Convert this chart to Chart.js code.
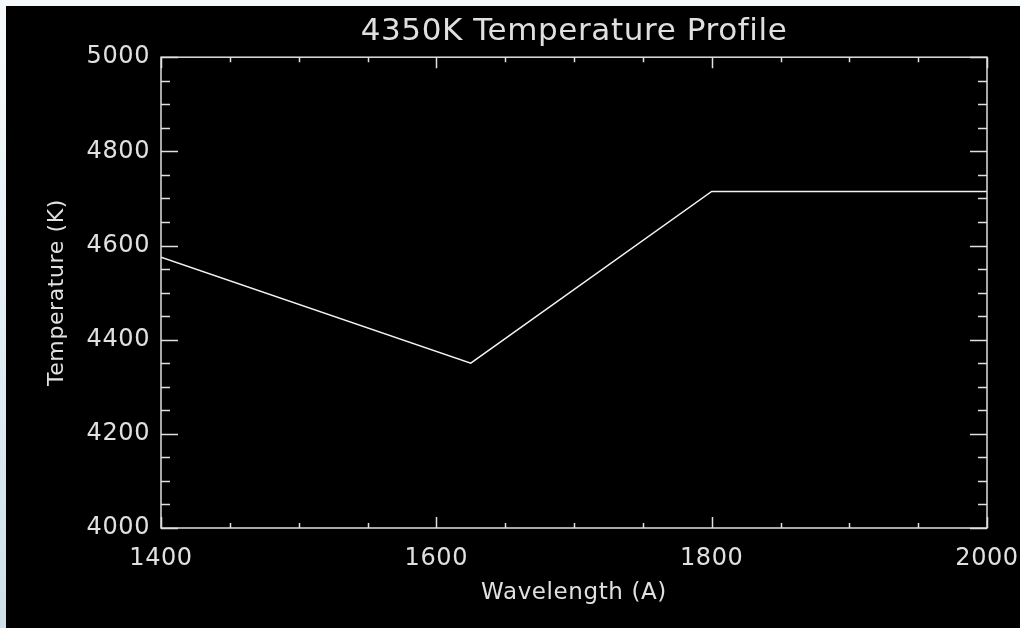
<!DOCTYPE html>
<html>
<head>
<meta charset="utf-8">
<script src="https://cdn.jsdelivr.net/npm/chart.js@4/dist/chart.umd.min.js"></script>
<style>
  html, body { margin: 0; padding: 0; }
  body {
    width: 1020px; height: 628px; overflow: hidden;
    background: linear-gradient(to bottom, #f6f9fc 0%, #e4eff5 50%, #cde0ea 100%);
  }
  #wrap {
    position: absolute; left: 6px; top: 6px;
    width: 1014px; height: 622px; background: #000;
  }
</style>
</head>
<body>
<div id="wrap"><canvas id="profileChart" width="1014" height="622"></canvas></div>
<script>
// Temperature profile data
const wavelength = [1400, 1625, 1800, 2000];
const temperature = [4575, 4350, 4715, 4715];

// axis ranges and ticks
const xTicks = [1400, 1600, 1800, 2000];
const yTicks = [4000, 4200, 4400, 4600, 4800, 5000];
const minorStepX = 50;
const minorStepY = 50;

const fg = '#e0e0e0';
const fontFamily = '"DejaVu Sans", sans-serif';

// a little letter spacing, also keeps "fi" from turning into a ligature
const spacing = {
    id: 'spacing',
    beforeDraw(chart) {
        chart.ctx.letterSpacing = '0.6px';
    }
};

// IDL style box with inward ticks on all four sides
const frame = {
    id: 'frame',
    afterDatasetsDraw(chart) {
        const ctx = chart.ctx;
        const a = chart.chartArea;
        const x = chart.scales.x;
        const y = chart.scales.y;
        ctx.save();
        ctx.strokeStyle = fg;
        ctx.lineWidth = 1.5;
        ctx.strokeRect(a.left, a.top, a.right - a.left, a.bottom - a.top);
        ctx.beginPath();
        for (let v = xTicks[0]; v <= xTicks[xTicks.length - 1]; v += minorStepX) {
            const px = Math.round(x.getPixelForValue(v)) + 0.5;
            const len = xTicks.includes(v) ? 11 : 5;
            ctx.moveTo(px, a.bottom); ctx.lineTo(px, a.bottom - len);
            ctx.moveTo(px, a.top); ctx.lineTo(px, a.top + len);
        }
        for (let v = yTicks[0]; v <= yTicks[yTicks.length - 1]; v += minorStepY) {
            const py = Math.round(y.getPixelForValue(v)) + 0.5;
            const len = yTicks.includes(v) ? 17 : 9;
            ctx.moveTo(a.left, py); ctx.lineTo(a.left + len, py);
            ctx.moveTo(a.right, py); ctx.lineTo(a.right - len, py);
        }
        ctx.stroke();
        ctx.restore();
    }
};

const ctx = document.getElementById('profileChart').getContext('2d');
const profileChart = new Chart(ctx, {
    type: 'scatter',
    data: {
        datasets: [{
            data: wavelength.map((w, i) => ({x: w, y: temperature[i]})),
            showLine: true,
            borderColor: '#f2f2f2',
            borderWidth: 1.5,
            pointRadius: 0,
            tension: 0
        }]
    },
    options: {
        responsive: false,
        animation: false,
        layout: {
            padding: {left: 0, right: 33, top: 0, bottom: 0}
        },
        plugins: {
            legend: {display: false},
            tooltip: {enabled: false},
            title: {
                display: true,
                fullSize: false,
                text: '4350K Temperature Profile',
                color: fg,
                font: {family: fontFamily, size: 31, weight: 'normal'},
                padding: {top: 7, bottom: 7}
            }
        },
        scales: {
            x: {
                type: 'linear',
                min: 1400,
                max: 2000,
                grid: {display: false, drawTicks: false},
                border: {display: false},
                afterBuildTicks: (scale) => { scale.ticks = xTicks.map(v => ({value: v})); },
                afterFit: (scale) => {
                    scale.height = 100;
                    scale.paddingLeft = 0;
                    scale.paddingRight = 0;
                },
                ticks: {
                    color: fg,
                    font: {family: fontFamily, size: 24},
                    padding: 16,
                    maxRotation: 0,
                    callback: (v) => String(v)
                },
                title: {
                    display: true,
                    text: 'Wavelength (A)',
                    color: fg,
                    font: {family: fontFamily, size: 23},
                    padding: {top: 0, bottom: 21}
                }
            },
            y: {
                type: 'linear',
                min: 4000,
                max: 5000,
                grid: {display: false, drawTicks: false},
                border: {display: false},
                afterBuildTicks: (scale) => { scale.ticks = yTicks.map(v => ({value: v})); },
                afterFit: (scale) => {
                    scale.width = 155;
                    scale.paddingTop = 0;
                    scale.paddingBottom = 0;
                },
                ticks: {
                    color: fg,
                    font: {family: fontFamily, size: 24},
                    padding: 11,
                    callback: (v) => String(v)
                },
                title: {
                    display: true,
                    text: 'Temperature (K)',
                    color: fg,
                    font: {family: fontFamily, size: 22},
                    padding: {top: 38, bottom: 0}
                }
            }
        }
    },
    plugins: [spacing, frame]
});
</script>
</body>
</html>
